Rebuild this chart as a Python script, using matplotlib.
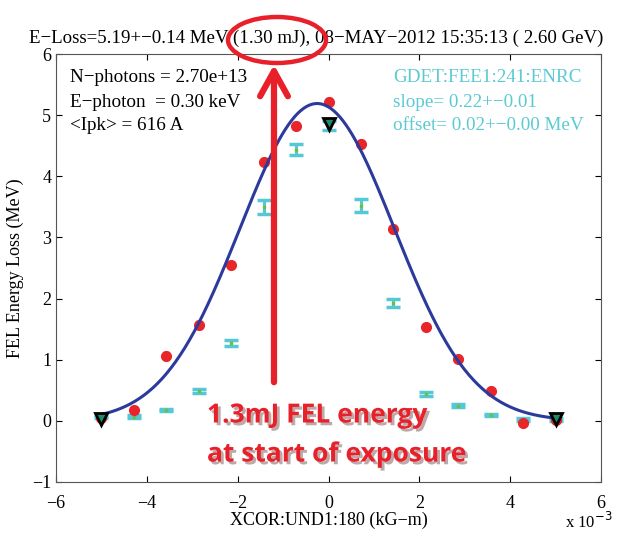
import numpy as np
import matplotlib
matplotlib.use("Agg")
from matplotlib import pyplot as plt
from matplotlib.patches import Ellipse, FancyArrowPatch
import matplotlib.patheffects as pe

# corrector settings (units of 1e-3 kG-m)
xcor = [-5.0, -4.29, -3.57, -2.86, -2.14, -1.43, -0.71, 0.0,
        0.71, 1.43, 2.14, 2.86, 3.57, 4.29, 5.0]
# measured FEL energy loss (MeV), red points
eloss = [0.05, 0.18, 1.06, 1.57, 2.55, 4.24, 4.83, 5.22,
         4.53, 3.14, 1.54, 1.01, 0.49, -0.03, 0.02]
eloss_err = [0.04, 0.05, 0.07, 0.06, 0.05, 0.06, 0.05, 0.06,
             0.07, 0.06, 0.05, 0.04, 0.05, 0.04, 0.03]
# gas detector signal, cyan points
gdet = [0.06, 0.07, 0.18, 0.49, 1.28, 3.50, 4.43, 4.83,
        3.52, 1.93, 0.44, 0.25, 0.10, 0.02, 0.02]
gdet_err = [0.02, 0.02, 0.02, 0.03, 0.05, 0.11, 0.09, 0.08,
            0.11, 0.07, 0.03, 0.02, 0.02, 0.02, 0.02]
# reference (straight) orbit points
ref_x = [-5.0, 0.0, 5.0]
ref_y = [0.03, 4.86, 0.03]
# gaussian fit parameters
fit_peak = 5.19
fit_center = -0.25
fit_sigma = 1.7

serif = ['Liberation Serif', 'DejaVu Serif']
plt.rcParams['font.family'] = serif
plt.rcParams['axes.unicode_minus'] = True

fig = plt.figure(figsize=(6.26, 5.35), dpi=100)
ax = fig.add_axes([56/626, 1-482/535, 545/626, 428/535])

xf = np.linspace(-5, 5, 300)
yf = fit_peak*np.exp(-(xf-fit_center)**2/(2*fit_sigma**2))

ax.errorbar(xcor, gdet, yerr=gdet_err, fmt='none', ecolor='#55c8d4',
            elinewidth=2.2, capsize=5, capthick=2.5, zorder=2)
ax.plot(xcor, gdet, ls='none', marker='s', ms=1.8, color='#6cbf3f',
        zorder=3)
ax.errorbar(xcor, eloss, yerr=eloss_err, fmt='o', color='#e8262a',
            ms=7, ecolor='#e8262a', elinewidth=1.2, capsize=2.5, zorder=3)
ax.plot(xf, yf, color='#2b3a9c', lw=2.2, zorder=4)
ax.plot(ref_x, ref_y, ls='none', marker='v', ms=9, mfc='#1d8c6a',
        mec='black', mew=2, zorder=5)

ax.set_xlim(-6, 6)
ax.set_ylim(-1, 6)
ax.set_xticks(range(-6, 7, 2))
ax.set_yticks(range(-1, 7))
ax.tick_params(direction='in', top=True, right=True, length=4,
               labelsize=13, colors='black')
ax.tick_params(axis='x', pad=9)
for s in ax.spines.values():
    s.set_color('#555555')
ax.set_xlabel('XCOR:UND1:180 (kG\u2212m)', fontsize=13, labelpad=0)
ax.set_ylabel('FEL Energy Loss (MeV)', fontsize=13, labelpad=6)
# title placed as figure text so it sits where the original does
fig.text(316/626, 1-38/535,
         'E\u2212Loss=5.19+\u22120.14 MeV (1.30 mJ), 08\u2212MAY\u22122012 '
         '15:35:13 ( 2.60 GeV)', fontsize=13.6, ha='center', va='center')

fig.text(565/626, 1-522/535, r'x 10$^{-3}$', fontsize=12, ha='left',
         va='center')

info = ['N\u2212photons = 2.70e+13', 'E\u2212photon  = 0.30 keV',
        '<Ipk> = 616 A']
for i, t in enumerate(info):
    fig.text(70/626, 1-(78+24*i)/535, t, fontsize=13.8, va='center')
gd = ['GDET:FEE1:241:ENRC', 'slope= 0.22+\u22120.01',
      'offset= 0.02+\u22120.00 MeV']
for i, t in enumerate(gd):
    fig.text(393/626, 1-(78+24*i)/535, t, fontsize=13.8, va='center',
             color='#5ccad2')

# red highlight: ellipse, arrow and note
red = '#e8202a'
fig.patches.append(Ellipse((277/626, 1-40/535), 98/626, 46/535,
                           transform=fig.transFigure, fill=False,
                           ec=red, lw=3.2, zorder=10))
fig.patches.append(FancyArrowPatch((274/626, 1-385/535), (274/626, 1-62/535),
                                   transform=fig.transFigure,
                                   arrowstyle='->,head_length=0.9,head_width=0.5',
                                   mutation_scale=20, color=red, lw=4.5,
                                   zorder=10))
shadow = [pe.withSimplePatchShadow(offset=(2, -2), alpha=0.35)]
for i, t in enumerate(['1.3mJ FEL energy', 'at start of exposure']):
    fig.text(207/626, 1-(415+39*i)/535, t, fontsize=19, fontweight='bold',
             family=['Open Sans', 'DejaVu Sans'], color=red, va='center',
             ha='left', zorder=11, path_effects=shadow)

fig.savefig('out.png', dpi=100)
